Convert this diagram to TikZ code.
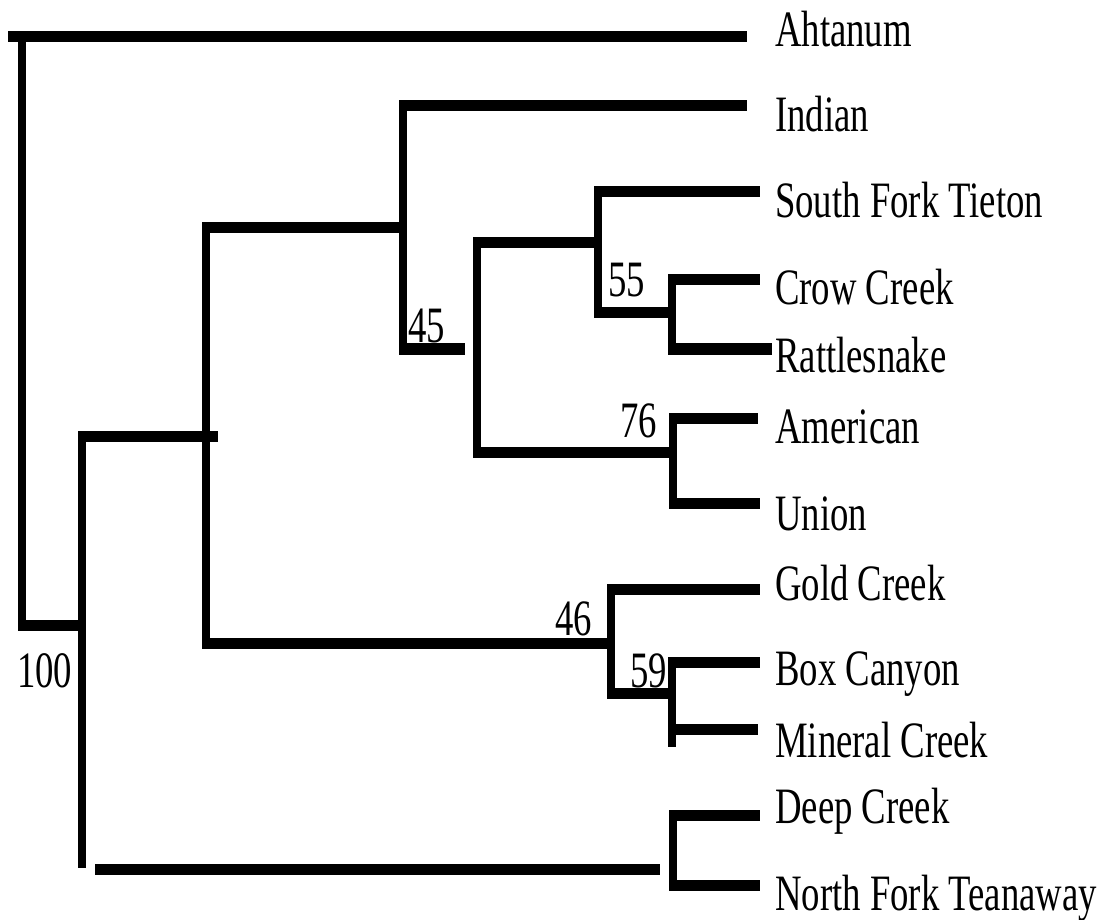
\documentclass[tikz,border=0pt]{standalone}
\usepackage{fontspec}
\setmainfont{Liberation Serif}
\newcommand{\condtxt}[1]{\scalebox{0.72}[1]{#1}}
\begin{document}
\begin{tikzpicture}[x=1pt,y=-1pt,
  hl/.style={line width=11pt, line cap=butt, shorten <=-4pt},
  vl/.style={line width=8pt, line cap=butt, shorten <=-5pt, shorten >=-5pt},
  leaf/.style={anchor=base west, inner sep=0pt, font=\fontsize{51}{60}\selectfont},
  boot/.style={anchor=base west, inner sep=0pt, font=\fontsize{51}{60}\selectfont}]
\useasboundingbox (0,0) rectangle (1104,920);
% coordinates
\coordinate (rT) at (22,37);   \coordinate (rB) at (22,625);
\coordinate (aS) at (12,37);   \coordinate (aE) at (747,37);
\coordinate (iJ) at (80,625);
\coordinate (n1T) at (82,436); \coordinate (n1B) at (82,863);
\coordinate (n2E) at (218,436);
\coordinate (n2T) at (206,228); \coordinate (n2B) at (206,643);
\coordinate (n3E) at (403,228);
\coordinate (n3T) at (403,106); \coordinate (n3B) at (403,349);
\coordinate (indE) at (747,106);
\coordinate (n45E) at (465,349);
\coordinate (n4T) at (477,243); \coordinate (n4B) at (477,452);
\coordinate (n5) at (598,243);
\coordinate (n5T) at (598,192); \coordinate (n5B) at (598,313);
\coordinate (sftE) at (760,192);
\coordinate (n6) at (672,313);
\coordinate (n6T) at (672,280); \coordinate (n6B) at (672,349);
\coordinate (crowE) at (760,280); \coordinate (ratE) at (772,349);
\coordinate (n7) at (673,452);
\coordinate (n7T) at (673,418); \coordinate (n7B) at (673,503);
\coordinate (amE) at (758,418); \coordinate (unE) at (760,503);
\coordinate (n8) at (611,643);
\coordinate (n8T) at (611,589); \coordinate (n8B) at (611,693);
\coordinate (goldE) at (760,589);
\coordinate (n9) at (672,693);
\coordinate (n9T) at (672,662); \coordinate (n9B) at (672,742);
\coordinate (boxE) at (760,662);
\coordinate (minS) at (672,729); \coordinate (minE) at (758,729);
\coordinate (n10S) at (99,869); \coordinate (n10E) at (660,869);
\coordinate (n10T) at (673,815); \coordinate (n10B) at (673,885);
\coordinate (deepE) at (760,815); \coordinate (nfE) at (760,885);
% horizontal branches
\draw[hl] (aS) -- (aE);
\draw[hl] (rB) -- (iJ);
\draw[hl] (n1T) -- (n2E);
\draw[hl] (n2T) -- (n3E);
\draw[hl] (n3T) -- (indE);
\draw[hl] (n3B) -- (n45E);
\draw[hl] (n4T) -- (n5);
\draw[hl] (n5T) -- (sftE);
\draw[hl] (n5B) -- (n6);
\draw[hl] (n6T) -- (crowE);
\draw[hl] (n6B) -- (ratE);
\draw[hl] (n4B) -- (n7);
\draw[hl] (n7T) -- (amE);
\draw[hl] (n7B) -- (unE);
\draw[hl] (n2B) -- (n8);
\draw[hl] (n8T) -- (goldE);
\draw[hl] (n8B) -- (n9);
\draw[hl] (n9T) -- (boxE);
\draw[hl] (minS) -- (minE);
\draw[hl] (n10S) -- (n10E);
\draw[hl] (n10T) -- (deepE);
\draw[hl] (n10B) -- (nfE);
% vertical branches
\draw[vl] (rT) -- (rB);
\draw[vl] (n1T) -- (n1B);
\draw[vl] (n2T) -- (n2B);
\draw[vl] (n3T) -- (n3B);
\draw[vl] (n4T) -- (n4B);
\draw[vl] (n5T) -- (n5B);
\draw[vl] (n6T) -- (n6B);
\draw[vl] (n7T) -- (n7B);
\draw[vl] (n8T) -- (n8B);
\draw[vl] (n9T) -- (n9B);
\draw[vl] (n10T) -- (n10B);
% leaf labels
\node[leaf] (lAht) at (775,47) {\condtxt{Ahtanum}};
\node[leaf] (lInd) at (775,132) {\condtxt{Indian}};
\node[leaf] (lSft) at (775,218) {\condtxt{South Fork Tieton}};
\node[leaf] (lCrow) at (775,305) {\condtxt{Crow Creek}};
\node[leaf] (lRat) at (775,373) {\condtxt{Rattlesnake}};
\node[leaf] (lAm) at (775,443) {\condtxt{American}};
\node[leaf] (lUn) at (775,530) {\condtxt{Union}};
\node[leaf] (lGold) at (775,600) {\condtxt{Gold Creek}};
\node[leaf] (lBox) at (775,685) {\condtxt{Box Canyon}};
\node[leaf] (lMin) at (775,757) {\condtxt{Mineral Creek}};
\node[leaf] (lDeep) at (775,823) {\condtxt{Deep Creek}};
\node[leaf] (lNf) at (775,910) {\condtxt{North Fork Teanaway}};
% bootstrap values
\node[boot] (b45) at (408,342) {\condtxt{45}};
\node[boot] (b55) at (608,297) {\condtxt{55}};
\node[boot] (b76) at (620,437) {\condtxt{76}};
\node[boot] (b46) at (555,635) {\condtxt{46}};
\node[boot] (b59) at (630,687) {\condtxt{59}};
\node[boot] (b100) at (17,687) {\condtxt{100}};
\end{tikzpicture}
\end{document}
